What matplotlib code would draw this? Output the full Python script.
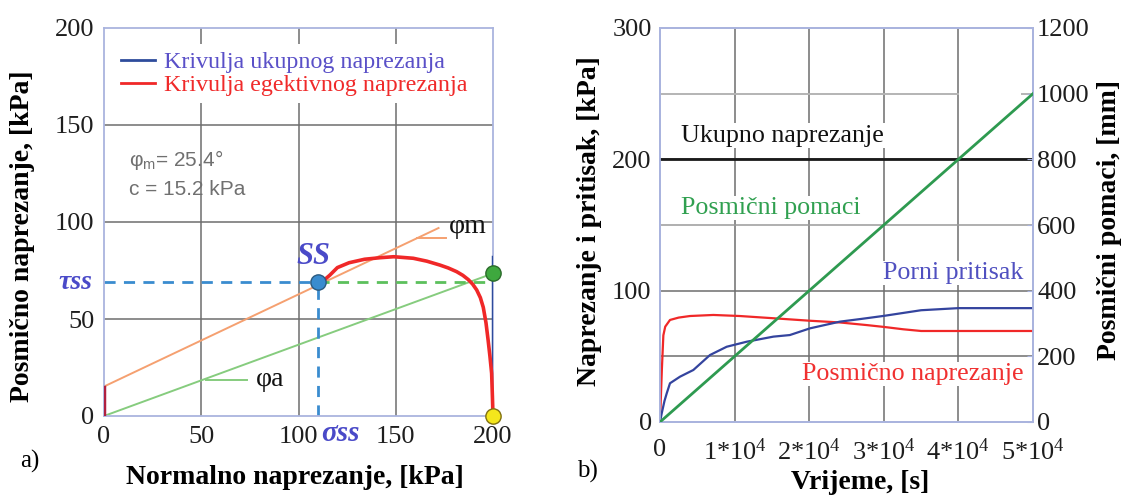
import matplotlib
matplotlib.use("Agg")
import matplotlib.pyplot as plt
from matplotlib.lines import Line2D

plt.rcParams["font.family"] = ["Liberation Serif", "DejaVu Serif"]
plt.rcParams["mathtext.fontset"] = "custom"
plt.rcParams["mathtext.rm"] = "Liberation Serif"
plt.rcParams["mathtext.it"] = "Liberation Serif:italic"
plt.rcParams["mathtext.sf"] = "Liberation Sans"

# ---- a) stress paths ----
sig_eff = [200, 199.7, 199.3, 198.4, 197.5, 196.4, 195, 193.5, 191.6, 189.5, 187.3,
           184.5, 181.3, 177, 172.7, 166, 159, 149, 142, 134, 126, 120, 116, 112.5, 110]
tau_eff = [0, 10, 22, 31, 39, 48, 56, 61, 65, 68, 70.3,
           72.5, 74.4, 76.3, 77.8, 79.8, 81.3, 82.1, 81.6, 80.8, 79, 76.5, 72.5, 69.5, 68.5]
sig_tot = [200, 200]
tau_tot = [0, 82]
phim_x = [0, 172]
phim_y = [15.2, 96.9]
phia_x = [0, 200]
phia_y = [0, 73.5]
c_stub = [0, 15.2]
ss_sig, ss_tau = 110, 69
end_tau = 73.5

# ---- b) time histories ----
t_red = [0, 250, 450, 700, 1340, 2500, 4020, 7150, 10700, 15200, 20100, 24100,
         27700, 30000, 32600, 35000, 40000, 50000]
shear = [0, 40, 66, 72.6, 77.7, 79.5, 80.7, 81.5, 80.7, 79, 77.1, 75.8,
         73.8, 72.4, 70.6, 69.3, 69.3, 69.3]
t_blue = [0, 230, 600, 900, 1340, 2680, 4470, 6700, 8940, 11600, 15200, 17400,
          20100, 24100, 27000, 30000, 35000, 40000, 50000]
pore = [0, 6.6, 16, 21.8, 29.5, 34.5, 39.6, 51, 57.3, 61.1, 65, 66.2,
        71.3, 76.4, 78.5, 80.8, 85.1, 86.7, 86.7]
t_tot = [0, 50000]
total = [200, 200]
t_disp = [0, 50000]
disp = [0, 1000]

spine_c = "#aab4de"
grid_c = "#6e6e6e"
tick_c = "#1e1e1e"
fs_tick = 19
fs_lab = 20

fig = plt.figure(figsize=(11.28, 4.95), dpi=100)

# ================= a) =================
ax = fig.add_axes([104 / 1128, 1 - 416 / 495, 389 / 1128, 388 / 495])
ax.set_xlim(0, 200)
ax.set_ylim(0, 200)
ax.set_xticks([0, 50, 100, 150, 200])
ax.set_yticks([0, 50, 100, 150, 200])
for v in [50, 100, 150]:
    ax.axvline(v, color=grid_c, lw=1.1, zorder=0.5)
    ax.axhline(v, color=grid_c, lw=1.1, zorder=0.5)
for s in ax.spines.values():
    s.set_color(spine_c)
    s.set_linewidth(1.3)
ax.tick_params(length=0, labelsize=fs_tick, labelcolor=tick_c, pad=7)

ax.plot(phim_x, phim_y, color="#f5a070", lw=1.4, zorder=2)
ax.plot(phia_x, phia_y, color="#86cc7e", lw=1.4, zorder=2)
ax.plot([0, 0], c_stub, color="#b02040", lw=2.5, zorder=3)
ax.plot([0, ss_sig], [ss_tau, ss_tau], color="#3a8ccf", lw=2, ls=(0, (4, 3)), zorder=2)
ax.plot([ss_sig, ss_sig], [0, ss_tau], color="#3a8ccf", lw=2, ls=(0, (4, 3)), zorder=2)
ax.plot([ss_sig, 200], [ss_tau, ss_tau], color="#5cc05c", lw=2, ls=(0, (4, 3)), zorder=2)
ax.plot(sig_tot, tau_tot, color="#2e4c9c", lw=2.5, zorder=3)
ax.plot(sig_eff, tau_eff, color="#f02828", lw=2.6, zorder=4, clip_on=False)
ax.plot([ss_sig], [ss_tau], "o", ms=11, mfc="#3a8ccf", mec="#2a5a80", zorder=6, clip_on=False)
ax.plot([200], [end_tau], "o", ms=11, mfc="#3ea83e", mec="#2a6a2a", zorder=6, clip_on=False)
ax.plot([200], [0], "o", ms=11, mfc="#f4e61c", mec="#807010", zorder=6, clip_on=False)

# leaders and labels
ax.plot([161, 176], [92, 92], color="#f5a070", lw=1.4, zorder=2)
ax.text(177.5, 97.5, "φm", fontsize=20, va="center", ha="left", color="#111111")
ax.plot([52.6, 73.5], [18.8, 18.8], color="#86cc7e", lw=1.4, zorder=2)
ax.text(78, 18.8, "φa", fontsize=20, va="center", ha="left", color="#111111")
ax.text(13, 132, r"φ$_\mathsf{m}$= 25.4°", family="Liberation Sans", fontsize=15,
        color="#707070", va="center")
ax.text(13, 117, "c = 15.2 kPa", family="Liberation Sans", fontsize=15,
        color="#707070", va="center")
ax.text(107.5, 82, "SS", fontsize=22, style="italic", weight="bold", color="#4a4ac8",
        ha="center", va="center")
ax.text(-6, ss_tau, "τss", fontsize=20, style="italic", weight="bold", color="#4a4ac8",
        ha="right", va="center", clip_on=False)
ax.text(ss_sig + 1.5, -8.8, "σss", fontsize=21, style="italic", weight="bold", color="#4a4ac8",
        ha="left", va="center", clip_on=False)

handles = [Line2D([], [], color="#2e4c9c", lw=2), Line2D([], [], color="#f02828", lw=2)]
leg = ax.legend(handles, ["Krivulja ukupnog naprezanja", "Krivulja egektivnog naprezanja"],
                loc="upper left", bbox_to_anchor=(-0.005, 0.99), fontsize=17.3, frameon=True,
                facecolor="white", edgecolor="none", framealpha=1, borderpad=0.3,
                handlelength=1.4, handletextpad=0.37, labelspacing=0.05)
leg.get_texts()[0].set_color("#5a50c8")
leg.get_texts()[1].set_color("#f02a2a")

ax.set_ylabel("Posmično naprezanje, [kPa]", fontsize=fs_lab, weight="bold")
ax.yaxis.set_label_coords(-0.177, 0.463)
ax.set_xlabel("Normalno naprezanje, [kPa]", fontsize=fs_lab, weight="bold")
ax.xaxis.set_label_coords(0.49, -0.125)
fig.text(20 / 1128, 1 - 461 / 495, "a)", fontsize=18, va="center", ha="left")

# ================= b) =================
bx = fig.add_axes([660 / 1128, 1 - 422 / 495, 373 / 1128, 394 / 495])
bx.set_xlim(0, 50000)
bx.set_ylim(0, 300)
bx.set_xticks([0, 10000, 20000, 30000, 40000, 50000])
bx.set_xticklabels(["0"] + [f"{i}*10$^{{4}}$" for i in range(1, 6)])
bx.set_yticks([0, 100, 200, 300])
for v in [10000, 20000, 30000, 40000]:
    bx.axvline(v, color=grid_c, lw=1.1, zorder=0.5)
for v in [50, 100, 200]:
    bx.axhline(v, color=grid_c, lw=1.1, zorder=0.5)
bx.axhline(150, color="#9a9a9a", lw=1.1, zorder=0.5)
bx.axhline(250, xmax=0.8, color="#b4b4b4", lw=1.4, zorder=0.5)
bx.axhline(250, xmin=0.97, color="#b4b4b4", lw=1.4, zorder=0.5)
for s in bx.spines.values():
    s.set_color(spine_c)
    s.set_linewidth(1.3)
bx.tick_params(axis="y", length=0, labelsize=fs_tick, labelcolor=tick_c, pad=6)
bx.tick_params(axis="x", length=0, labelsize=fs_tick, labelcolor=tick_c, pad=12)

bx2 = bx.twinx()
bx2.set_ylim(0, 1200)
bx2.set_yticks([0, 200, 400, 600, 800, 1000, 1200])
bx2.tick_params(direction="in", length=4, color=spine_c, labelsize=fs_tick, labelcolor=tick_c, pad=3)
for s in bx2.spines.values():
    s.set_color(spine_c)
    s.set_linewidth(1.3)

bx.plot(t_tot, total, color="#1a1a1a", lw=2, zorder=3)
bx.plot(t_red, shear, color="#f02828", lw=1.6, zorder=4)
bx.plot(t_blue, pore, color="#34449e", lw=1.6, zorder=4)
bx2.plot(t_disp, disp, color="#2e9a50", lw=2, zorder=4)

box = dict(facecolor="white", edgecolor="none", pad=1)
bx.text(2800, 218, "Ukupno naprezanje", fontsize=18.7, color="#111111", va="center", bbox=box, zorder=2)
bx.text(2800, 163, "Posmični pomaci", fontsize=18.7, color="#30a050", va="center", bbox=box, zorder=2)
bx.text(29900, 113.5, "Porni pritisak", fontsize=18.7, color="#5050c0", va="center", bbox=box, zorder=2)
bx.text(19000, 36.5, "Posmično naprezanje", fontsize=18.7, color="#f03030", va="center", bbox=box, zorder=2)

bx.set_ylabel("Naprezanje i pritisak, [kPa]", fontsize=fs_lab, weight="bold")
bx.yaxis.set_label_coords(-0.155, 0.509)
bx2.set_ylabel("Posmični pomaci, [mm]", fontsize=fs_lab, weight="bold", rotation=90)
bx2.yaxis.set_label_coords(1.172, 0.513)
bx.set_xlabel("Vrijeme, [s]", fontsize=fs_lab, weight="bold")
bx.xaxis.set_label_coords(0.536, -0.122)
fig.text(577 / 1128, 1 - 471 / 495, "b)", fontsize=18, va="center", ha="left")

fig.savefig("out.png", dpi=100, facecolor="white")
